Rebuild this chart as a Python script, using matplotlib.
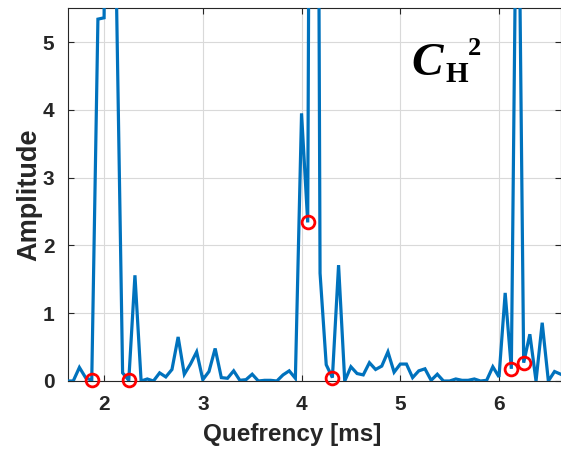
import matplotlib
matplotlib.use("Agg")
import matplotlib.pyplot as plt

# Quefrency axis (ms) and cepstrum amplitude
quefrency_ms = [1.625, 1.6875, 1.75, 1.8125, 1.875, 1.9375, 2.0, 2.0625, 2.125, 2.1875,
                2.25, 2.3125, 2.375, 2.4375, 2.5, 2.5625, 2.625, 2.6875, 2.75, 2.8125,
                2.875, 2.9375, 3.0, 3.0625, 3.125, 3.1875, 3.25, 3.3125, 3.375, 3.4375,
                3.5, 3.5625, 3.625, 3.6875, 3.75, 3.8125, 3.875, 3.9375, 4.0, 4.0625,
                4.125, 4.1875, 4.25, 4.3125, 4.375, 4.4375, 4.5, 4.5625, 4.625, 4.6875,
                4.75, 4.8125, 4.875, 4.9375, 5.0, 5.0625, 5.125, 5.1875, 5.25, 5.3125,
                5.375, 5.4375, 5.5, 5.5625, 5.625, 5.6875, 5.75, 5.8125, 5.875, 5.9375,
                6.0, 6.0625, 6.125, 6.1875, 6.25, 6.3125, 6.375, 6.4375, 6.5, 6.5625,
                6.625]
amplitude = [0.0, 0.0, 0.20, 0.05, 0.01, 5.34, 5.36, 20.0, 5.7, 0.12,
             0.01, 1.56, 0.0, 0.03, 0.0, 0.12, 0.06, 0.17, 0.65, 0.10,
             0.25, 0.43, 0.02, 0.14, 0.48, 0.05, 0.04, 0.15, 0.01, 0.02,
             0.10, 0.0, 0.01, 0.01, 0.0, 0.09, 0.15, 0.04, 3.95, 2.34,
             25.0, 1.59, 0.24, 0.05, 1.71, 0.0, 0.21, 0.11, 0.09, 0.27,
             0.17, 0.22, 0.43, 0.13, 0.25, 0.25, 0.05, 0.15, 0.18, 0.01,
             0.10, 0.0, 0.0, 0.03, 0.01, 0.01, 0.03, 0.0, 0.01, 0.21,
             0.06, 1.30, 0.18, 9.2, 0.27, 0.69, 0.0, 0.86, 0.0, 0.14,
             0.10]
# indices of marked minima (red circles)
marked_idx = [4, 10, 39, 43, 72, 74]

xticks = [2, 3, 4, 5, 6]
yticks = [0, 1, 2, 3, 4, 5]

W, H = 561, 450
fig = plt.figure(figsize=(W / 100, H / 100), dpi=100)
ax = fig.add_axes([68.3 / W, (H - 381) / H, (561 - 68.3) / W, (381 - 8.3) / H])

line_color = "#0072BD"
ax.plot(quefrency_ms, amplitude, color=line_color, lw=2.3, zorder=3,
        solid_joinstyle="miter")
ax.plot([quefrency_ms[i] for i in marked_idx], [amplitude[i] for i in marked_idx],
        linestyle="none", marker="o", markersize=9.2, markerfacecolor="none",
        markeredgecolor="#FF0000", markeredgewidth=2.0, clip_on=False, zorder=4)

ax.set_xlim(1.6375, 6.628)
ax.set_ylim(0, 5.5)
ax.set_xticks(xticks)
ax.set_yticks(yticks)
ax.grid(True, color="#d9d9d9", lw=0.8)
ax.set_axisbelow(True)

for s in ax.spines.values():
    s.set_color("#262626")
    s.set_linewidth(0.8)
ax.tick_params(direction="in", length=4, width=0.8, color="#262626",
               top=True, right=True, labelsize=15, labelcolor="#262626")
ax.tick_params(axis="x", pad=10)
ax.tick_params(axis="y", pad=10)
for lab in ax.get_xticklabels() + ax.get_yticklabels():
    lab.set_fontweight("bold")
    lab.set_fontfamily("Liberation Sans")

ax.set_xlabel("Quefrency [ms]", fontsize=17.5, fontweight="bold",
              family="Liberation Sans", color="#262626")
ax.xaxis.set_label_coords((292 - 68.3) / (561 - 68.3), -(446 - 381) / (381 - 8.3))
ax.xaxis.label.set_va("bottom")
ax.set_ylabel("Amplitude", fontsize=19.5, fontweight="bold",
              family="Liberation Sans", color="#262626")
ax.yaxis.set_label_coords(-(68.3 - 16) / (561 - 68.3), 0.5)
ax.yaxis.label.set_va("top")

# C_H^2 annotation
fig.text(411 / W, 1 - 75 / H, "C", fontsize=34, fontstyle="italic", fontweight="bold",
         family="Liberation Serif", color="black", ha="left", va="baseline")
fig.text(446 / W, 1 - 82 / H, "H", fontsize=21, fontweight="bold",
         family="Liberation Serif", color="black", ha="left", va="baseline")
fig.text(468 / W, 1 - 55 / H, "2", fontsize=19, fontweight="bold",
         family="Liberation Serif", color="black", ha="left", va="baseline")

fig.savefig("out.png", dpi=100)
